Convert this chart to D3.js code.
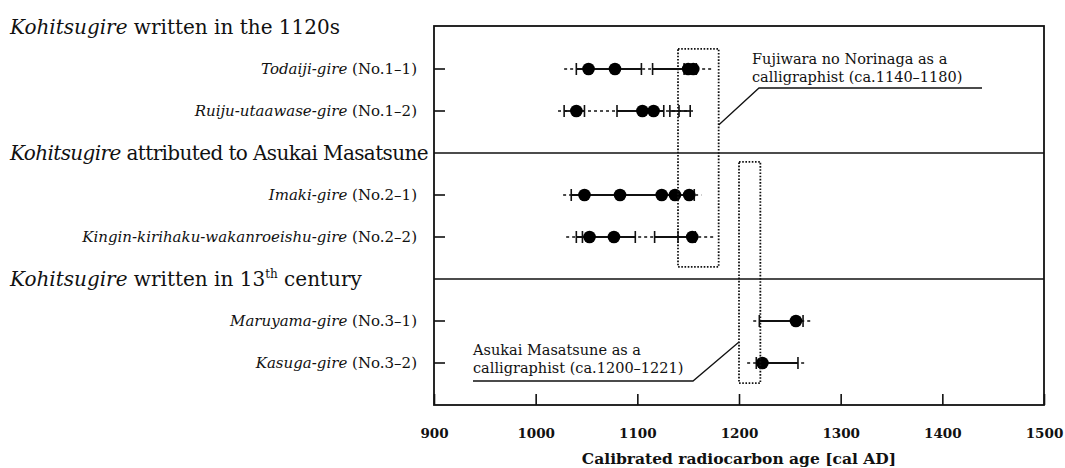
<!DOCTYPE html>
<html>
<head>
<meta charset="utf-8">
<script src="https://cdn.jsdelivr.net/npm/d3@7"></script>
<style>
  body { margin: 0; background: #fff; }
  svg { display: block; font-family: "DejaVu Serif", "Liberation Serif", serif; }
</style>
</head>
<body>
<svg id="chart" width="1065" height="468"></svg>
<script>
// ---------------- DATA ----------------
const groupTitles = [
  { italic: "Kohitsugire", rest: " written in the 1120s", sup: "", tail: "" },
  { italic: "Kohitsugire", rest: " attributed to Asukai Masatsune", sup: "", tail: "" },
  { italic: "Kohitsugire", rest: " written in 13", sup: "th", tail: " century" }
];
const sampleNames = [
  "Todaiji-gire", "Ruiju-utaawase-gire",
  "Imaki-gire", "Kingin-kirihaku-wakanroeishu-gire",
  "Maruyama-gire", "Kasuga-gire"
];
const sampleIds = ["(No.1–1)", "(No.1–2)", "(No.2–1)", "(No.2–2)", "(No.3–1)", "(No.3–2)"];
const sampleGroup = [0, 0, 1, 1, 2, 2];

// 2-sigma ranges (dashed), cal AD
const range2sigma = [
  [1028, 1175], [1022, 1157], [1027, 1163], [1030, 1176], [1214, 1273], [1208, 1266]
];
// 1-sigma ranges (solid), cal AD
const range1sigma = [
  [[1040, 1104], [1115, 1158]],
  [[1028, 1048], [1080, 1126], [1132, 1152]],
  [[1035, 1156]],
  [[1040, 1098], [1117, 1157]],
  [[1220, 1263]],
  [[1217, 1258]]
];
// range boundary marks, cal AD
const boundaryMarks = [
  [1040, 1104, 1115, 1146, 1158],
  [1028, 1048, 1080, 1126, 1132, 1141, 1152],
  [1035, 1156],
  [1040, 1046, 1098, 1117, 1140, 1157],
  [1220, 1263],
  [1217, 1258]
];
// intercepts (dots), cal AD
const intercepts = [
  [1052, 1078, 1150, 1155],
  [1040, 1105, 1116],
  [1048, 1083, 1124, 1137, 1151],
  [1053, 1077, 1154],
  [1256],
  [1223]
];

const xTicks = [900, 1000, 1100, 1200, 1300, 1400, 1500];
const xDomain = [900, 1500];
const xTitle = "Calibrated radiocarbon age [cal AD]";

// calligrapher activity periods
const periodNames = [
  ["Fujiwara no Norinaga as a", "calligraphist (ca.1140–1180)"],
  ["Asukai Masatsune as a", "calligraphist (ca.1200–1221)"]
];
const periodYears = [[1140, 1180], [1200, 1221]];

// ---------------- LAYOUT ----------------
const svg = d3.select("#chart");
const pLeft = 434, pRight = 1044, pTop = 27, pBottom = 405;
const x = d3.scaleLinear().domain(xDomain).range([pLeft, pRight]);
// slot grid: 3 slots per group (2 rows + separator)
const y = d3.scaleLinear().domain([0, 9]).range([pTop, pBottom]);
const rowSlot = (i) => 3 * sampleGroup[i] + (i % 2) + 1;

// frame
svg.append("rect")
  .attr("x", pLeft).attr("y", pTop - 1)
  .attr("width", pRight - pLeft).attr("height", pBottom - pTop + 1)
  .attr("fill", "none").attr("stroke", "#111").attr("stroke-width", 1.8);

// group separators
[1, 2].forEach(g => {
  svg.append("line")
    .attr("x1", pLeft).attr("x2", pRight)
    .attr("y1", y(3 * g)).attr("y2", y(3 * g))
    .attr("stroke", "#111").attr("stroke-width", 1.6);
});

// x axis (ticks pointing inward)
const xAxis = d3.axisBottom(x).tickValues(xTicks).tickFormat(d3.format("d"))
  .tickSizeInner(-11).tickSizeOuter(0).tickPadding(23);
const gx = svg.append("g").attr("transform", `translate(0,${pBottom})`).call(xAxis);
gx.select(".domain").remove();
gx.selectAll(".tick line").attr("stroke", "#111").attr("stroke-width", 1.6);
gx.selectAll(".tick text")
  .attr("font-family", "DejaVu Serif").attr("font-size", 13.5)
  .attr("font-weight", "bold").attr("fill", "#111");

svg.append("text")
  .attr("x", x(1200)).attr("y", 464)
  .attr("text-anchor", "middle")
  .attr("font-size", 15.5).attr("font-weight", "bold").attr("fill", "#111")
  .text(xTitle);

// y ticks
sampleNames.forEach((n, i) => {
  svg.append("line")
    .attr("x1", pLeft).attr("x2", pLeft + 11)
    .attr("y1", y(rowSlot(i))).attr("y2", y(rowSlot(i)))
    .attr("stroke", "#111").attr("stroke-width", 1.6);
});

// row labels
sampleNames.forEach((n, i) => {
  const t = svg.append("text")
    .attr("x", 417).attr("y", y(rowSlot(i)) + 5)
    .attr("text-anchor", "end").attr("font-size", 15).attr("fill", "#111");
  t.append("tspan").attr("font-style", "italic").text(n);
  t.append("tspan").text(" " + sampleIds[i]);
});

// group titles
groupTitles.forEach((g, gi) => {
  const t = svg.append("text")
    .attr("x", 10).attr("y", y(3 * gi) + 7)
    .attr("font-size", 20).attr("fill", "#111");
  t.append("tspan").attr("font-style", "italic").text(g.italic);
  t.append("tspan").text(g.rest);
  if (g.sup) {
    t.append("tspan").attr("font-size", 12).attr("dy", -8).text(g.sup);
    t.append("tspan").attr("dy", 8).text(g.tail);
  }
  // keep the title clear of the plot frame
  const maxW = pLeft - 16;
  const w = t.node().getComputedTextLength();
  if (w > maxW) t.attr("letter-spacing", -(w - maxW) / t.text().length);
});

// data rows
sampleNames.forEach((n, i) => {
  const yy = y(rowSlot(i));
  const g = svg.append("g");
  g.append("line")
    .attr("x1", x(range2sigma[i][0])).attr("x2", x(range2sigma[i][1]))
    .attr("y1", yy).attr("y2", yy)
    .attr("stroke", "#111").attr("stroke-width", 1.5).attr("stroke-dasharray", "3,3");
  g.selectAll(".s1").data(range1sigma[i]).join("line")
    .attr("x1", d => x(d[0])).attr("x2", d => x(d[1]))
    .attr("y1", yy).attr("y2", yy)
    .attr("stroke", "#111").attr("stroke-width", 1.8);
  g.selectAll(".bm").data(boundaryMarks[i]).join("line")
    .attr("x1", d => x(d)).attr("x2", d => x(d))
    .attr("y1", yy - 6).attr("y2", yy + 6)
    .attr("stroke", "#111").attr("stroke-width", 1.6);
  g.selectAll("circle").data(intercepts[i]).join("circle")
    .attr("cx", d => x(d)).attr("cy", yy).attr("r", 6.3)
    .attr("fill", "#000");
});

// period boxes (dotted)
const boxSlots = [[0.52, 5.71], [3.21, 8.48]];
periodYears.forEach((p, k) => {
  svg.append("rect")
    .attr("x", x(p[0])).attr("y", y(boxSlots[k][0]))
    .attr("width", x(p[1]) - x(p[0]))
    .attr("height", y(boxSlots[k][1]) - y(boxSlots[k][0]))
    .attr("fill", "none").attr("stroke", "#111")
    .attr("stroke-width", 1.8).attr("stroke-dasharray", "1.6,1.6");
});

// callout 1 (Fujiwara) - to the right of box
const c1 = { tx: 752, ty1: 64, ty2: 82, lineY: 88, lineX1: 759, lineX2: 982, boxY: 125 };
svg.append("polyline")
  .attr("points", [[x(periodYears[0][1]), c1.boxY], [c1.lineX1, c1.lineY], [c1.lineX2, c1.lineY]].join(" "))
  .attr("fill", "none").attr("stroke", "#111").attr("stroke-width", 1.3);
svg.append("text").attr("x", c1.tx).attr("y", c1.ty1)
  .attr("font-size", 14.5).attr("fill", "#111").text(periodNames[0][0]);
svg.append("text").attr("x", c1.tx).attr("y", c1.ty2)
  .attr("font-size", 14.5).attr("fill", "#111").text(periodNames[0][1]);

// callout 2 (Asukai) - to the left of box
const c2 = { tx: 473, ty1: 355, ty2: 373, lineY: 381, lineX1: 473, lineX2: 693, boxY: 342 };
svg.append("polyline")
  .attr("points", [[c2.lineX1, c2.lineY], [c2.lineX2, c2.lineY], [x(periodYears[1][0]), c2.boxY]].join(" "))
  .attr("fill", "none").attr("stroke", "#111").attr("stroke-width", 1.3);
svg.append("text").attr("x", c2.tx).attr("y", c2.ty1)
  .attr("font-size", 14.5).attr("fill", "#111").text(periodNames[1][0]);
svg.append("text").attr("x", c2.tx).attr("y", c2.ty2)
  .attr("font-size", 14.5).attr("fill", "#111").text(periodNames[1][1]);
</script>
</body>
</html>
